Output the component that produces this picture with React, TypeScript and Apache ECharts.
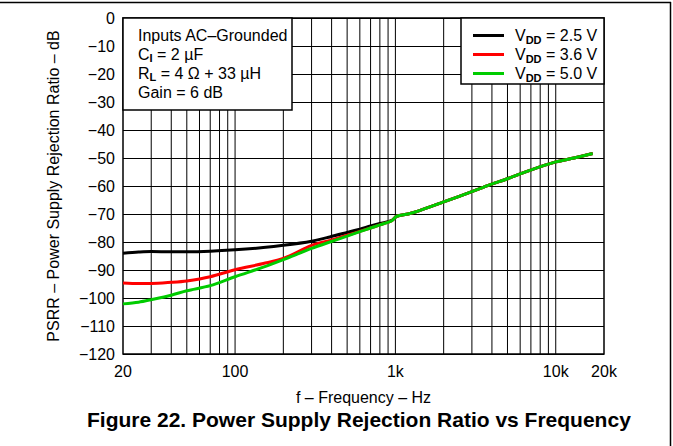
import React, { useEffect, useRef } from 'react';
import * as echarts from 'echarts';

const FONT = '"Liberation Sans", Arial, Helvetica, sans-serif';

const seriesNames = ['VDD = 2.5 V', 'VDD = 3.6 V', 'VDD = 5.0 V'];
const seriesColors = ['#000000', '#ff0000', '#00cc00'];

const freqHz = [20, 25, 30, 40, 50, 70, 100, 150, 200, 300, 390, 500, 600, 700, 800, 950, 1020, 1200, 1400, 2000, 3000, 3900, 5000, 6900, 10000, 13000, 17000];
const psrrVdd25 = [-84.0, -83.6, -83.4, -83.5, -83.5, -83.3, -82.8, -82.0, -81.2, -79.7, -78.2, -76.6, -75.4, -74.3, -73.4, -72.3, -70.8, -70.0, -68.9, -65.7, -62.0, -59.5, -57.4, -54.4, -51.4, -50.0, -48.4];
const psrrVdd36 = [-94.6, -94.8, -94.8, -94.4, -93.9, -92.4, -89.9, -87.7, -85.9, -81.2, -79.4, -77.6, -76.2, -75.0, -73.9, -72.4, -70.8, -70.0, -68.9, -65.7, -62.0, -59.5, -57.4, -54.4, -51.4, -50.0, -48.4];
const psrrVdd50 = [-102.1, -101.5, -100.6, -99.0, -97.4, -95.6, -92.4, -89.0, -86.3, -82.3, -80.0, -77.9, -76.3, -75.0, -73.9, -72.4, -70.8, -70.0, -68.9, -65.7, -62.0, -59.5, -57.4, -54.4, -51.4, -50.0, -48.4];

const gridFreqs = [30, 40, 50, 60, 70, 80, 90, 100, 200, 300, 400, 500, 600, 700, 800, 900, 1000, 2000, 3000, 4000, 5000, 6000, 7000, 8000, 9000, 10000];
const xTickFreqs = [20, 100, 1000, 10000, 20000];
const xTickLabels = ['20', '100', '1k', '10k', '20k'];

const Y_MIN = -120;
const Y_MAX = 0;
const Y_STEP = 10;

const noteLines = [
  '{n|Inputs AC–Grounded}',
  '{n|C}{s|I}{n| = 2 µF}',
  '{n|R}{s|L}{n| = 4 Ω + 33 µH}',
  '{n|Gain = 6 dB}',
];

const rich = {
  g: { width: 6, fontSize: 16, fontFamily: FONT },
  n: { fontSize: 16, fontFamily: FONT, color: '#000', lineHeight: 19 },
  s: { fontSize: 11, fontFamily: FONT, fontWeight: 'bold', color: '#000', lineHeight: 11, padding: [8, 0, 0, 0] },
};

export default function App() {
  const ref = useRef<HTMLDivElement>(null);
  useEffect(() => {
    if (!ref.current) return;
    const chart = echarts.init(ref.current, null, { renderer: 'svg' });
    const vals = [psrrVdd25, psrrVdd36, psrrVdd50];
    const lineSeries = seriesNames.map((name, k) => ({
      name,
      type: 'line',
      data: freqHz.map((f, i) => [f, vals[k][i]]),
      symbol: 'none',
      showSymbol: false,
      smooth: 0.3,
      lineStyle: { color: seriesColors[k], width: 3 },
      itemStyle: { color: seriesColors[k] },
      z: 3 + k,
      silent: true,
    }));
    chart.setOption({
      animation: false,
      backgroundColor: '#fff',
      textStyle: { fontFamily: FONT },
      title: {
        text: 'Figure 22. Power Supply Rejection Ratio vs Frequency',
        left: 87,
        top: 409,
        padding: 0,
        textStyle: { fontSize: 21, fontWeight: 'bold', fontFamily: FONT, color: '#000' },
      },
      grid: {
        left: 123,
        top: 18,
        width: 481,
        height: 336,
        show: true,
        borderColor: '#000',
        borderWidth: 1.5,
        backgroundColor: 'transparent',
      },
      legend: {
        data: seriesNames.map((name, k) => ({ name, icon: 'rect', itemStyle: { color: seriesColors[k] } })),
        orient: 'vertical',
        left: 473,
        top: 26,
        itemWidth: 31,
        itemHeight: 3,
        itemGap: 0,
        z: 20,
        padding: 0,
        formatter: (name: string) => '{g|}' + name.replace('VDD', '{n|V}{s|DD}{n|') + '}',
        textStyle: { rich, fontSize: 16, fontFamily: FONT, color: '#000' },
        selectedMode: false,
      },
      xAxis: {
        type: 'log',
        logBase: 10,
        min: 20,
        max: 20000,
        axisLabel: { show: false },
        axisTick: { show: false },
        axisLine: { show: false },
        splitLine: { show: false },
        name: 'f – Frequency – Hz',
        nameLocation: 'middle',
        nameGap: 35,
        nameTextStyle: { fontSize: 16, fontFamily: FONT, color: '#000' },
      },
      yAxis: {
        type: 'value',
        min: Y_MIN,
        max: Y_MAX,
        interval: Y_STEP,
        axisLabel: {
          fontSize: 16,
          fontFamily: FONT,
          color: '#000',
          margin: 8,
          formatter: (v: number) => String(v).replace('-', '−'),
        },
        axisTick: { show: false },
        axisLine: { show: false },
        splitLine: { show: true, lineStyle: { color: '#000', width: 1 } },
        name: 'PSRR – Power Supply Rejection Ratio – dB',
        nameLocation: 'middle',
        nameGap: 62,
        nameRotate: 90,
        nameTextStyle: { fontSize: 16, fontFamily: FONT, color: '#000' },
      },
      graphic: {
        elements: [
          { type: 'line', shape: { x1: 0, y1: 2.5, x2: 671, y2: 2.5 }, style: { stroke: '#000', lineWidth: 1.5 }, z: 30 },
          { type: 'line', shape: { x1: 670.5, y1: 2, x2: 670.5, y2: 446 }, style: { stroke: '#000', lineWidth: 1.5 }, z: 30 },
          { type: 'rect', shape: { x: 123, y: 18, width: 169, height: 92 }, style: { fill: '#fff', stroke: '#000', lineWidth: 1.5 }, z: 10 },
          { type: 'rect', shape: { x: 461, y: 18, width: 143, height: 66 }, style: { fill: '#fff', stroke: '#000', lineWidth: 1.5 }, z: 10 },
          ...noteLines.map((t, i) => ({
            type: 'text',
            x: 138,
            y: 35 + i * 19,
            z: 11,
            style: { text: t, rich, fill: '#000', fontSize: 16, fontFamily: FONT, verticalAlign: 'middle', align: 'left' },
          })),
        ],
      },
      series: [
        {
          type: 'custom',
          name: 'vgrid',
          silent: true,
          clip: false,
          z: 1,
          data: gridFreqs.map((f) => [f, Y_MIN]),
          renderItem: (params: any, api: any) => {
            const cs = params.coordSys;
            const x = api.coord([api.value(0), Y_MIN])[0];
            return {
              type: 'line',
              shape: { x1: x, y1: cs.y, x2: x, y2: cs.y + cs.height },
              style: { stroke: '#000', lineWidth: 1 },
            };
          },
        },
        {
          type: 'custom',
          name: 'xlabels',
          silent: true,
          clip: false,
          z: 1,
          data: xTickFreqs.map((f) => [f, Y_MIN]),
          renderItem: (params: any, api: any) => {
            const cs = params.coordSys;
            const x = api.coord([api.value(0), Y_MIN])[0];
            return {
              type: 'text',
              x,
              y: cs.y + cs.height + 17,
              style: {
                text: xTickLabels[params.dataIndex],
                fill: '#000',
                fontSize: 16,
                fontFamily: FONT,
                align: 'center',
                verticalAlign: 'middle',
              },
            };
          },
        },
        ...lineSeries,
      ],
    });
    return () => chart.dispose();
  }, []);
  return (
    <div
      ref={ref}
      style={{ position: 'fixed', left: 0, top: 0, width: 673, height: 446, background: '#fff' }}
    />
  );
}
